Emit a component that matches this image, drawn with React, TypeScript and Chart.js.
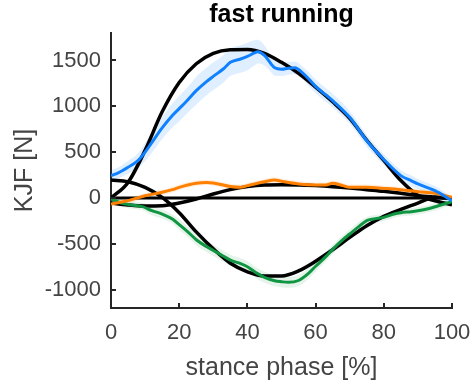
import React, { useEffect, useRef } from "react";
import { Chart, registerables } from "chart.js";

Chart.register(...registerables);

const TITLE = "fast running";
const X_LABEL = "stance phase [%]";
const Y_LABEL = "KJF [N]";

const xTicks = [0, 20, 40, 60, 80, 100];
const yTicks = [-1000, -500, 0, 500, 1000, 1500];

const modelPhase = [0, 5, 10, 15, 20, 25, 30, 35, 40, 45, 50, 55, 60, 65, 70, 75, 80, 85, 90, 95, 100];
const modelVertical = [0, 170, 520, 940, 1260, 1465, 1578, 1617, 1620, 1578, 1480, 1360, 1210, 1050, 870, 630, 410, 190, 30, -30, -75];
const modelAP = [196, 178, 116, 7, -160, -370, -555, -712, -805, -850, -850, -795, -690, -565, -430, -302, -200, -125, -55, 5, -5];
const modelML = [-55, -76, -87, -84, -55, -11, 44, 91, 124, 142, 145, 142, 135, 124, 109, 91, 73, 51, 25, 11, 0];

const zeroPhase = [0, 100];
const zeroValues = [0, 0];

const bluePhase = [0, 2, 5, 8, 10, 12, 15, 18, 20, 22, 25, 28, 30, 33, 35, 38, 40, 42, 43, 45, 47, 48, 50, 52, 54, 56, 58, 60, 63, 65, 70, 75, 80, 85, 88, 90, 95, 100];
const blueMean = [244, 272, 335, 410, 500, 607, 765, 900, 975, 1050, 1171, 1270, 1327, 1410, 1480, 1516, 1545, 1582, 1596, 1555, 1460, 1420, 1405, 1415, 1420, 1370, 1298, 1218, 1124, 1062, 880, 625, 420, 244, 189, 153, 80, -30];
const blueSD = [60, 60, 70, 80, 100, 110, 120, 130, 140, 140, 150, 150, 150, 150, 150, 150, 150, 140, 130, 110, 90, 85, 75, 70, 70, 70, 75, 75, 75, 75, 70, 65, 60, 60, 60, 55, 50, 40];

const orangePhase = [0, 5, 10, 15, 18, 20, 25, 28, 30, 35, 38, 40, 45, 48, 50, 55, 60, 63, 65, 68, 70, 75, 80, 85, 90, 95, 100];
const orangeMean = [-65, -29, 25, 62, 91, 116, 160, 168, 164, 125, 116, 135, 178, 196, 182, 153, 142, 142, 160, 135, 116, 116, 105, 91, 69, 51, 7];
const orangeSD = [30, 30, 30, 30, 30, 30, 30, 30, 30, 30, 30, 30, 30, 30, 30, 30, 30, 30, 30, 30, 30, 30, 30, 30, 30, 30, 20];

const greenPhase = [0, 3, 6, 9, 12, 15, 18, 20, 23, 25, 28, 30, 33, 35, 38, 40, 43, 45, 48, 50, 52, 55, 58, 60, 63, 65, 68, 70, 73, 75, 77, 80, 83, 85, 88, 90, 93, 96, 100];
const greenMean = [-11, -55, -76, -91, -138, -175, -229, -290, -385, -455, -530, -572, -635, -678, -716, -750, -825, -865, -902, -913, -920, -900, -820, -745, -640, -560, -455, -393, -302, -247, -229, -211, -175, -160, -150, -140, -118, -85, -40];
const greenSD = [30, 40, 40, 40, 50, 50, 50, 60, 60, 60, 60, 60, 60, 60, 60, 60, 60, 60, 60, 60, 60, 60, 60, 60, 50, 50, 50, 50, 50, 40, 40, 40, 40, 40, 40, 40, 40, 40, 30];

const FONT = "'Liberation Sans', Arial, Helvetica, sans-serif";
const TEXT_COLOR = "#444444";
const AXIS_COLOR = "#262626";
const BLUE = "rgb(15,128,255)";
const BLUE_BAND = "rgba(15,128,255,0.13)";
const ORANGE = "rgb(255,128,0)";
const ORANGE_BAND = "rgba(255,128,0,0.13)";
const GREEN = "rgb(16,150,66)";
const GREEN_BAND = "rgba(16,150,66,0.11)";
const BLACK = "#000000";

function pts(xs: number[], ys: number[]) {
  return xs.map((x, i) => ({ x, y: ys[i] }));
}

const inwardTicks = {
  id: "inwardTicks",
  afterDatasetsDraw(chart: any) {
    const { ctx, chartArea, scales } = chart;
    ctx.save();
    ctx.strokeStyle = AXIS_COLOR;
    ctx.lineWidth = 2;
    ctx.beginPath();
    for (const v of xTicks) {
      const px = Math.round(scales.x.getPixelForValue(v));
      ctx.moveTo(px, chartArea.bottom);
      ctx.lineTo(px, chartArea.bottom - 5);
    }
    for (const v of yTicks) {
      const py = Math.round(scales.y.getPixelForValue(v));
      ctx.moveTo(chartArea.left, py);
      ctx.lineTo(chartArea.left + 5, py);
    }
    ctx.stroke();
    ctx.restore();
  },
};

export default function App() {
  const ref = useRef<HTMLCanvasElement>(null);

  useEffect(() => {
    document.body.style.margin = "0";
    const line = (data: any, color: string, width: number) => ({
      data,
      borderColor: color,
      backgroundColor: color,
      borderWidth: width,
      pointRadius: 0,
      cubicInterpolationMode: "monotone" as const,
      fill: false,
    });
    const band = (xs: number[], mean: number[], sd: number[], color: string) => [
      {
        data: pts(xs, mean.map((m, i) => m + sd[i])),
        borderWidth: 0,
        borderColor: "rgba(0,0,0,0)",
        backgroundColor: color,
        pointRadius: 0,
        cubicInterpolationMode: "monotone" as const,
        fill: "+1",
      },
      {
        data: pts(xs, mean.map((m, i) => m - sd[i])),
        borderWidth: 0,
        borderColor: "rgba(0,0,0,0)",
        backgroundColor: color,
        pointRadius: 0,
        cubicInterpolationMode: "monotone" as const,
        fill: false,
      },
    ];

    const chart = new Chart(ref.current!, {
      type: "line",
      data: {
        datasets: [
          line(pts(bluePhase, blueMean), BLUE, 3),
          line(pts(orangePhase, orangeMean), ORANGE, 3),
          line(pts(greenPhase, greenMean), GREEN, 3),
          line(pts(modelPhase, modelVertical), BLACK, 3.5),
          line(pts(modelPhase, modelAP), BLACK, 3.5),
          line(pts(modelPhase, modelML), BLACK, 3.5),
          line(pts(zeroPhase, zeroValues), BLACK, 3),
          ...band(bluePhase, blueMean, blueSD, BLUE_BAND),
          ...band(orangePhase, orangeMean, orangeSD, ORANGE_BAND),
          ...band(greenPhase, greenMean, greenSD, GREEN_BAND),
        ] as any,
      },
      options: {
        animation: false,
        responsive: false,
        devicePixelRatio: 1,
        layout: { padding: { left: 0, right: 22, top: 0, bottom: 0 } },
        plugins: {
          legend: { display: false },
          tooltip: { enabled: false },
          title: {
            display: true,
            text: TITLE,
            fullSize: false,
            color: "#000000",
            font: { family: FONT, size: 25, weight: "bold" },
            padding: { top: 0, bottom: 3 },
          },
        },
        scales: {
          x: {
            type: "linear",
            min: 0,
            max: 100,
            afterBuildTicks: (s: any) => {
              s.ticks = xTicks.map((v) => ({ value: v }));
            },
            afterFit: (s: any) => {
              s.height = 79;
              s.paddingLeft = 0;
              s.paddingRight = 0;
            },
            grid: { display: false, drawTicks: false },
            border: { display: true, color: AXIS_COLOR, width: 2 },
            ticks: {
              color: TEXT_COLOR,
              font: { family: FONT, size: 22 },
              padding: 12,
              maxRotation: 0,
              autoSkip: false,
              callback: (v: any) => String(v),
            },
            title: {
              display: true,
              text: X_LABEL,
              color: TEXT_COLOR,
              font: { family: FONT, size: 25 },
              padding: { top: 0, bottom: 4 },
            },
          },
          y: {
            type: "linear",
            min: -1200,
            max: 1800,
            afterBuildTicks: (s: any) => {
              s.ticks = yTicks.map((v) => ({ value: v }));
            },
            afterFit: (s: any) => {
              s.width = 111;
              s.paddingTop = 0;
              s.paddingBottom = 0;
            },
            grid: { display: false, drawTicks: false },
            border: { display: true, color: AXIS_COLOR, width: 2 },
            ticks: {
              color: TEXT_COLOR,
              font: { family: FONT, size: 22 },
              padding: 10,
              autoSkip: false,
              callback: (v: any) => String(v),
            },
            title: {
              display: true,
              text: Y_LABEL,
              color: TEXT_COLOR,
              font: { family: FONT, size: 25 },
              padding: { top: 10, bottom: 0 },
            },
          },
        },
      },
      plugins: [inwardTicks],
    });
    return () => chart.destroy();
  }, []);

  return (
    <div style={{ position: "fixed", left: 0, top: 0, width: 474, height: 387 }}>
      <canvas ref={ref} width={474} height={387} style={{ width: 474, height: 387, display: "block" }} />
    </div>
  );
}
